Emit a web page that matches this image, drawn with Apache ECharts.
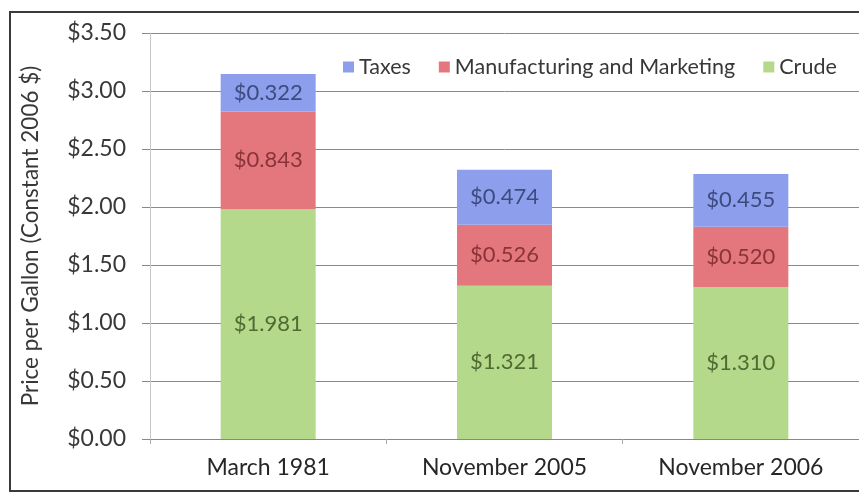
<!DOCTYPE html>
<html>
<head>
<meta charset="utf-8">
<script src="https://cdn.jsdelivr.net/npm/echarts@6/dist/echarts.min.js"></script>
<style>
  html, body { margin: 0; padding: 0; background: #fff; }
  #main { width: 859px; height: 496px; }
</style>
</head>
<body>
<div id="main"></div>
<script>
// gasoline price breakdown, $ per gallon (constant 2006 $)
var categories = ["March 1981", "November 2005", "November 2006"];
var crude = [1.981, 1.321, 1.310];
var manufacturing = [0.843, 0.526, 0.520];
var taxes = [0.322, 0.474, 0.455];
var yTicks = [0, 0.5, 1, 1.5, 2, 2.5, 3, 3.5];

var FONT = "Lato";

function money(v, d) {
  return "$" + v.toFixed(d);
}

function barLabel(color) {
  return {
    show: true,
    position: "inside",
    fontFamily: FONT,
    fontSize: 22,
    color: color,
    formatter: function (p) { return money(p.value, 3); }
  };
}

var chart = echarts.init(document.getElementById("main"));
chart.setOption({
  animation: false,
  backgroundColor: "#fff",
  textStyle: { fontFamily: FONT },
  graphic: [
    {
      type: "rect",
      shape: { x: 10, y: 12, width: 880, height: 479 },
      style: { fill: "none", stroke: "#3a3a3a", lineWidth: 2 },
      z: 100
    }
  ],
  legend: {
    data: ["Taxes", "Manufacturing and Marketing", "Crude"],
    left: 338,
    top: 51,
    itemWidth: 11,
    itemHeight: 11,
    itemGap: 28,
    icon: "rect",
    textStyle: { fontFamily: FONT, fontSize: 21.5, color: "#383838" }
  },
  grid: { left: 150, top: 33, width: 720, height: 406 },
  xAxis: {
    type: "category",
    data: categories,
    axisLine: { lineStyle: { color: "#888" } },
    axisTick: { show: true, length: 5, lineStyle: { color: "#aaa" } },
    axisLabel: { fontFamily: FONT, fontSize: 23, color: "#262626", margin: 17 }
  },
  yAxis: {
    type: "value",
    min: yTicks[0],
    max: yTicks[yTicks.length - 1],
    interval: 0.5,
    name: "Price per Gallon (Constant 2006 $)",
    nameLocation: "middle",
    nameRotate: 90,
    nameGap: 108,
    nameTextStyle: { fontFamily: FONT, fontSize: 22.5, color: "#383838" },
    axisLine: { show: true, lineStyle: { color: "#c8c8c8" } },
    axisTick: { show: true, length: 8, lineStyle: { color: "#888" } },
    axisLabel: {
      fontFamily: FONT,
      fontSize: 23,
      color: "#383838",
      margin: 24,
      formatter: function (v) { return money(v, 2); }
    },
    splitLine: { lineStyle: { color: "#8a8a8a", width: 1 } }
  },
  series: [
    {
      name: "Crude",
      type: "bar",
      stack: "total",
      barWidth: 95,
      data: crude,
      itemStyle: { color: "#b5d98a" },
      label: barLabel("#4f6b33")
    },
    {
      name: "Manufacturing and Marketing",
      type: "bar",
      stack: "total",
      data: manufacturing,
      itemStyle: { color: "#e3777d" },
      label: barLabel("#8a343a")
    },
    {
      name: "Taxes",
      type: "bar",
      stack: "total",
      data: taxes,
      itemStyle: { color: "#8c9eec" },
      label: barLabel("#3d4b7e")
    }
  ]
});
</script>
</body>
</html>
